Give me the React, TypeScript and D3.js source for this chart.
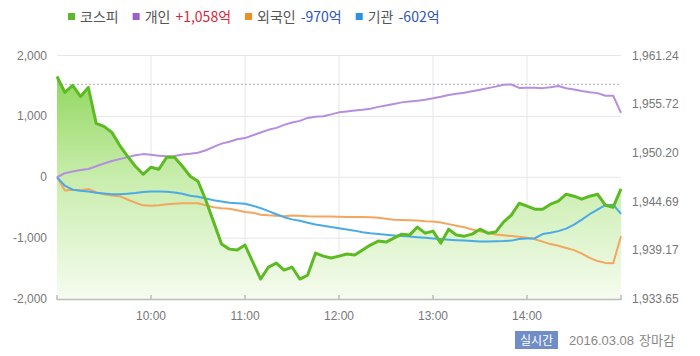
import React, { useEffect, useRef } from "react";
import * as d3 from "d3";

// ---- data ----
const startMinute = 540; // 09:00
const stepMinutes = 5;
const kospi = [
  1958.86, 1957.06, 1957.85, 1956.6, 1957.62, 1953.55, 1953.21, 1952.53, 1951.06, 1949.82,
  1948.69, 1947.78, 1948.58, 1948.35, 1949.71, 1949.71, 1948.69, 1947.56, 1946.99, 1944.84,
  1942.36, 1939.87, 1939.3, 1939.19, 1939.76, 1937.83, 1935.91, 1937.27, 1937.72, 1936.93,
  1937.27, 1935.91, 1936.36, 1938.85, 1938.51, 1938.29, 1938.51, 1938.74, 1938.63, 1939.19,
  1939.76, 1940.21, 1940.1, 1940.55, 1941.0, 1940.89, 1941.79, 1941.11, 1941.34, 1939.98,
  1941.56, 1940.89, 1940.77, 1941.0, 1941.56, 1941.11, 1941.23, 1942.36, 1943.15, 1944.5,
  1944.17, 1943.83, 1943.83, 1944.39, 1944.73, 1945.52, 1945.3, 1944.96, 1945.3, 1945.52,
  1944.28, 1944.05, 1946.12,
];
const individual = [
  0, 66, 95, 120, 136, 180, 226, 266, 298, 331,
  361, 380, 369, 352, 343, 349, 372, 385, 402, 443,
  500, 552, 582, 623, 643, 689, 734, 779, 811, 861,
  898, 926, 975, 992, 1003, 1033, 1066, 1082, 1097, 1110,
  1126, 1156, 1180, 1205, 1230, 1243, 1257, 1274, 1297, 1323,
  1352, 1372, 1387, 1413, 1438, 1464, 1489, 1520, 1523, 1467,
  1470, 1470, 1464, 1480, 1500, 1462, 1441, 1418, 1398, 1382,
  1339, 1339, 1058,
];
const foreign = [
  0, -216, -205, -213, -192, -246, -279, -300, -311, -366,
  -418, -462, -467, -459, -443, -434, -428, -426, -426, -459,
  -492, -508, -516, -541, -570, -582, -615, -626, -631, -639,
  -628, -631, -641, -643, -643, -644, -648, -651, -652, -654,
  -656, -664, -680, -697, -703, -707, -711, -721, -726, -743,
  -770, -795, -820, -857, -889, -918, -939, -954, -967, -979,
  -995, -1018, -1057, -1098, -1126, -1161, -1197, -1254, -1325, -1377,
  -1407, -1413, -970,
];
const institution = [
  0, -139, -205, -221, -234, -254, -267, -280, -279, -270,
  -259, -243, -233, -233, -238, -251, -270, -303, -320, -349,
  -377, -397, -418, -426, -434, -467, -508, -557, -607, -656,
  -692, -716, -746, -775, -795, -818, -838, -857, -877, -903,
  -920, -934, -946, -956, -966, -975, -984, -995, -1005, -1016,
  -1025, -1034, -1041, -1049, -1057, -1054, -1052, -1049, -1041, -1013,
  -1005, -1002, -934, -913, -885, -844, -779, -697, -607, -533,
  -459, -451, -602,
];
const prevClose = 1957.98;
const leftTicks = [2000, 1000, 0, -1000, -2000];
const rightTicks = [1961.24, 1955.72, 1950.2, 1944.69, 1939.17, 1933.65];
const hourTicks = [600, 660, 720, 780, 840];
const hourLabels = ["10:00", "11:00", "12:00", "13:00", "14:00"];
const legendNames = ["코스피", "개인", "외국인", "기관"];
const legendNets: (number | null)[] = [null, 1058, -970, -602];
const dateText = "2016.03.08";
const statusText = "장마감";
const badgeText = "실시간";

const times = kospi.map((_, i) => startMinute + i * stepMinutes);

export default function App() {
  const ref = useRef<SVGSVGElement>(null);
  useEffect(() => {
    const svg = d3.select(ref.current);
    svg.selectAll("*").remove();
    const W = 700, H = 356;
    const left = 57, right = 621, top = 55.5, bottom = 299;
    const x = d3.scaleLinear().domain([540, 900]).range([left, right]);
    const yL = d3.scaleLinear().domain([-2000, 2000]).range([bottom, top]);
    const yR = d3.scaleLinear().domain([1933.65, 1961.24]).range([bottom, top]);
    const font = "'Liberation Sans', Arial, sans-serif";
    const kfont = "'Noto Sans CJK KR', 'Liberation Sans', sans-serif";

    svg.append("rect").attr("width", W).attr("height", H).attr("fill", "#fff");

    const defs = svg.append("defs");
    const grad = defs.append("linearGradient").attr("id", "gfill")
      .attr("gradientUnits", "userSpaceOnUse").attr("x1", 0).attr("x2", 0).attr("y1", top).attr("y2", bottom);
    grad.append("stop").attr("offset", "0").attr("stop-color", "#86d24e");
    grad.append("stop").attr("offset", "0.5").attr("stop-color", "#c8edac");
    grad.append("stop").attr("offset", "1").attr("stop-color", "#f6fcf0");

    // grid
    const g = svg.append("g");
    g.selectAll("line.h").data(leftTicks.filter((d) => d !== -2000)).join("line")
      .attr("x1", left).attr("x2", right).attr("y1", (d) => yL(d)).attr("y2", (d) => yL(d))
      .attr("stroke", "#e6e6e6").attr("stroke-width", 1);
    g.selectAll("line.v").data(hourTicks).join("line")
      .attr("x1", (d) => x(d)).attr("x2", (d) => x(d)).attr("y1", top).attr("y2", bottom)
      .attr("stroke", "#e6e6e6").attr("stroke-width", 1);

    // area
    const area = d3.area<number>().x((_, i) => x(times[i])).y0(bottom).y1((d) => yR(d));
    svg.append("path").datum(kospi).attr("d", area).attr("fill", "url(#gfill)");

    // prev close dotted
    svg.append("line").attr("x1", left).attr("x2", right).attr("y1", yR(prevClose)).attr("y2", yR(prevClose))
      .attr("stroke", "#b0a8c0").attr("stroke-width", 1).attr("stroke-dasharray", "2,2");

    const lineL = d3.line<number>().x((_, i) => x(times[i])).y((d) => yL(d));
    const lineR = d3.line<number>().x((_, i) => x(times[i])).y((d) => yR(d));
    svg.append("path").datum(foreign).attr("d", lineL).attr("fill", "none").attr("stroke", "#f3a65e").attr("stroke-width", 2).attr("stroke-linejoin", "round");
    svg.append("path").datum(institution).attr("d", lineL).attr("fill", "none").attr("stroke", "#4aaae8").attr("stroke-width", 2).attr("stroke-linejoin", "round");
    svg.append("path").datum(individual).attr("d", lineL).attr("fill", "none").attr("stroke", "#b58ee0").attr("stroke-width", 2).attr("stroke-linejoin", "round");
    svg.append("path").datum(kospi).attr("d", lineR).attr("fill", "none").attr("stroke", "#5cba22").attr("stroke-width", 3).attr("stroke-linejoin", "round");

    // bottom axis
    svg.append("line").attr("x1", left).attr("x2", right).attr("y1", bottom + 0.5).attr("y2", bottom + 0.5).attr("stroke", "#bdbdbd").attr("stroke-width", 1.5);
    svg.selectAll("line.tk").data([540, ...hourTicks, 900]).join("line")
      .attr("x1", (d) => x(d)).attr("x2", (d) => x(d)).attr("y1", bottom - 4).attr("y2", bottom + 1)
      .attr("stroke", "#bdbdbd").attr("stroke-width", 1.5);
    svg.selectAll("text.xl").data(hourTicks).join("text")
      .attr("x", (d) => x(d)).attr("y", 320).attr("text-anchor", "middle")
      .attr("font-family", font).attr("font-size", 12).attr("fill", "#777")
      .text((_, i) => hourLabels[i]);

    // left labels
    svg.selectAll("text.yl").data(leftTicks).join("text")
      .attr("x", 47).attr("y", (d) => yL(d) + 4).attr("text-anchor", "end")
      .attr("font-family", font).attr("font-size", 12).attr("fill", "#777")
      .text((d) => d.toLocaleString("en-US"));
    // right labels
    svg.selectAll("text.yr").data(rightTicks).join("text")
      .attr("x", 632).attr("y", (d) => yR(d) + 4).attr("text-anchor", "start")
      .attr("font-family", font).attr("font-size", 12).attr("fill", "#777")
      .text((d) => d.toLocaleString("en-US", { minimumFractionDigits: 2, maximumFractionDigits: 2 }));

    // legend
    const sqColors = ["#5cb82c", "#9b5fc9", "#f08c22", "#2b91e0"];
    let cx = 68;
    const ly = 17;
    const lg = svg.append("g");
    legendNames.forEach((name, i) => {
      lg.append("rect").attr("x", cx).attr("y", ly - 4).attr("width", 7).attr("height", 7).attr("fill", sqColors[i]);
      cx += 12;
      const t = lg.append("text").attr("x", cx).attr("y", ly + 5).attr("font-family", kfont).attr("font-size", 14).attr("fill", "#555").text(name);
      cx += (t.node() as SVGTextElement).getComputedTextLength();
      const net = legendNets[i];
      if (net !== null) {
        cx += 5;
        const s = (net > 0 ? "+" : "") + net.toLocaleString("en-US") + "억";
        const v = lg.append("text").attr("x", cx).attr("y", ly + 5).attr("font-family", kfont).attr("font-size", 14)
          .attr("fill", net > 0 ? "#d9263b" : "#2d56b6").text(s);
        cx += (v.node() as SVGTextElement).getComputedTextLength();
      }
      cx += 14;
    });

    // footer
    svg.append("rect").attr("x", 515).attr("y", 331).attr("width", 43).attr("height", 18).attr("fill", "#6f8dc6");
    svg.append("text").attr("x", 536.5).attr("y", 344.5).attr("text-anchor", "middle").attr("font-family", kfont).attr("font-size", 12).attr("fill", "#fff").text(badgeText);
    svg.append("text").attr("x", 569).attr("y", 345).attr("font-family", font).attr("font-size", 13).attr("fill", "#888").text(dateText);
    svg.append("text").attr("x", 639).attr("y", 345).attr("font-family", kfont).attr("font-size", 13).attr("fill", "#888").text(statusText);
  }, []);
  return (
    <svg ref={ref} width={700} height={356} style={{ position: "absolute", left: 0, top: 0, display: "block" }} />
  );
}
